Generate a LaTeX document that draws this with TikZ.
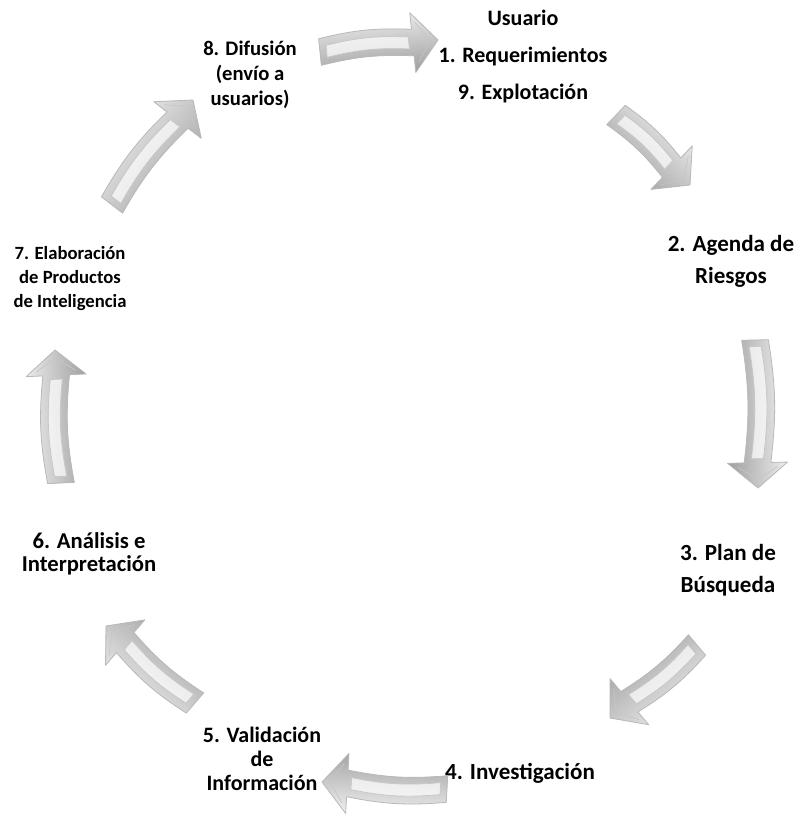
\documentclass[tikz,border=0pt]{standalone}
\usepackage{fontspec}
\setmainfont{Carlito}
\usetikzlibrary{calc}

% block arrow geometry
\newcommand\shaftw{10pt}
\newcommand\headw{22.5pt}
\newcommand\headlen{19pt}
\newcommand\bendang{8}

% outline of a slightly bent block arrow from tail #1 to tip #2
\newcommand\arrowoutline[2]{%
  ($(#1)!\shaftw!90:(#2)$) to[bend left=\bendang] ($(#2-neck)!\shaftw!90:(#2)$)
  -- ($(#2-neck)!\headw!90:(#2)$) -- (#2)
  -- ($(#2-neck)!\headw!-90:(#2)$) -- ($(#2-neck)!\shaftw!-90:(#2)$)
  to[bend right=\bendang] ($(#1)!\shaftw!-90:(#2)$) -- cycle}

% #1 tail, #2 tip, #3 direction of the arrow (degrees)
\newcommand\cyclearrow[3]{%
  \coordinate (#2-neck) at ($(#2)!\headlen!(#1)$);
  \coordinate (#2-i1) at ($(#1)!5pt!(#2)$);
  \coordinate (#2-i2) at ($(#2-neck)!3pt!(#1)$);
  \coordinate (#2-n2) at ($(#2-neck)!3pt!(#2)$);
  \fill[black, opacity=0.07, shift={(5pt,-6pt)}] \arrowoutline{#1}{#2};
  \fill[black, opacity=0.13, shift={(2.5pt,-3pt)}] \arrowoutline{#1}{#2};
  \path[arrowbody, shading angle=#3] \arrowoutline{#1}{#2};
  \draw[arrowbody line] \arrowoutline{#1}{#2};
  \draw[bevel] ($(#2-i1)!4.5pt!90:(#2)$) to[bend left=\bendang] ($(#2-i2)!4.5pt!90:(#2)$)
    -- ($(#2-i2)!4.5pt!-90:(#2)$) to[bend right=\bendang] ($(#2-i1)!4.5pt!-90:(#2)$) -- cycle;
  \draw[bevel, fill=none] ($(#2-n2)!15pt!90:(#2)$) -- ($(#2)!6pt!(#2-neck)$) -- ($(#2-n2)!15pt!-90:(#2)$);
}

\tikzset{
  arrowbody/.style={top color=gray!12, middle color=white, bottom color=gray!75},
  arrowbody line/.style={draw=gray!55, line width=0.6pt, line join=round},
  bevel/.style={draw=gray!45, line width=0.5pt, fill=white, fill opacity=0.7},
  lbl/.style={align=center, inner sep=0pt, text=black},
  lbltop/.style={lbl, font=\bfseries\fontsize{16.5pt}{27.75pt}\selectfont},
  lblbig/.style={lbl, font=\bfseries\fontsize{17.3pt}{24pt}\selectfont},
  lblsmall/.style={lbl, font=\bfseries\fontsize{15pt}{18pt}\selectfont},
}

\begin{document}
\begin{tikzpicture}[x=0.75pt, y=-0.75pt]
\useasboundingbox (0,0) rectangle (798,816);

% stage labels
\node[lbltop] (usr) at (523,57) {Usuario\\1. Requerimientos\\9. Explotación};
\node[lblbig] (s2) at (731,261) {2. Agenda de\\Riesgos};
\node[lblbig] (s3) at (728,570) {3. Plan de\\Búsqueda};
\node[lblbig] (s4) at (520,773) {4. Investigación};
\node[lblsmall, font=\bfseries\fontsize{16.5pt}{18pt}\selectfont] (s5) at (262,759) {5. Validación\\de\\Información};
\node[lblsmall, font=\bfseries\fontsize{17pt}{16.8pt}\selectfont] (s6) at (89,554) {6. Análisis e\\Interpretación};
\node[lblsmall, font=\bfseries\fontsize{14pt}{18pt}\selectfont] (s7) at (70,279) {7. Elaboración\\de Productos\\de Inteligencia};
\node[lblsmall, font=\bfseries\fontsize{15.5pt}{18.75pt}\selectfont] (s8) at (250,75) {8. Difusión\\(envío a\\usuarios)};

% arrow ends
\coordinate (a1t) at (320,52);  \coordinate (a1h) at (438,40);
\coordinate (a2t) at (616,115); \coordinate (a2h) at (690,185);
\coordinate (a3t) at (755,340); \coordinate (a3h) at (758,488);
\coordinate (a4t) at (697,645); \coordinate (a4h) at (610,718);
\coordinate (a5t) at (447,789); \coordinate (a5h) at (322,782);
\coordinate (a6t) at (195,703); \coordinate (a6h) at (106,626);
\coordinate (a7t) at (61,483);  \coordinate (a7h) at (55,350);
\coordinate (a8t) at (112,205); \coordinate (a8h) at (193,100);

\cyclearrow{a1t}{a1h}{5.8}
\cyclearrow{a2t}{a2h}{-43.4}
\cyclearrow{a3t}{a3h}{-88.8}
\cyclearrow{a4t}{a4h}{-140}
\cyclearrow{a5t}{a5h}{176.8}
\cyclearrow{a6t}{a6h}{139}
\cyclearrow{a7t}{a7h}{92.6}
\cyclearrow{a8t}{a8h}{52.3}
\end{tikzpicture}
\end{document}
